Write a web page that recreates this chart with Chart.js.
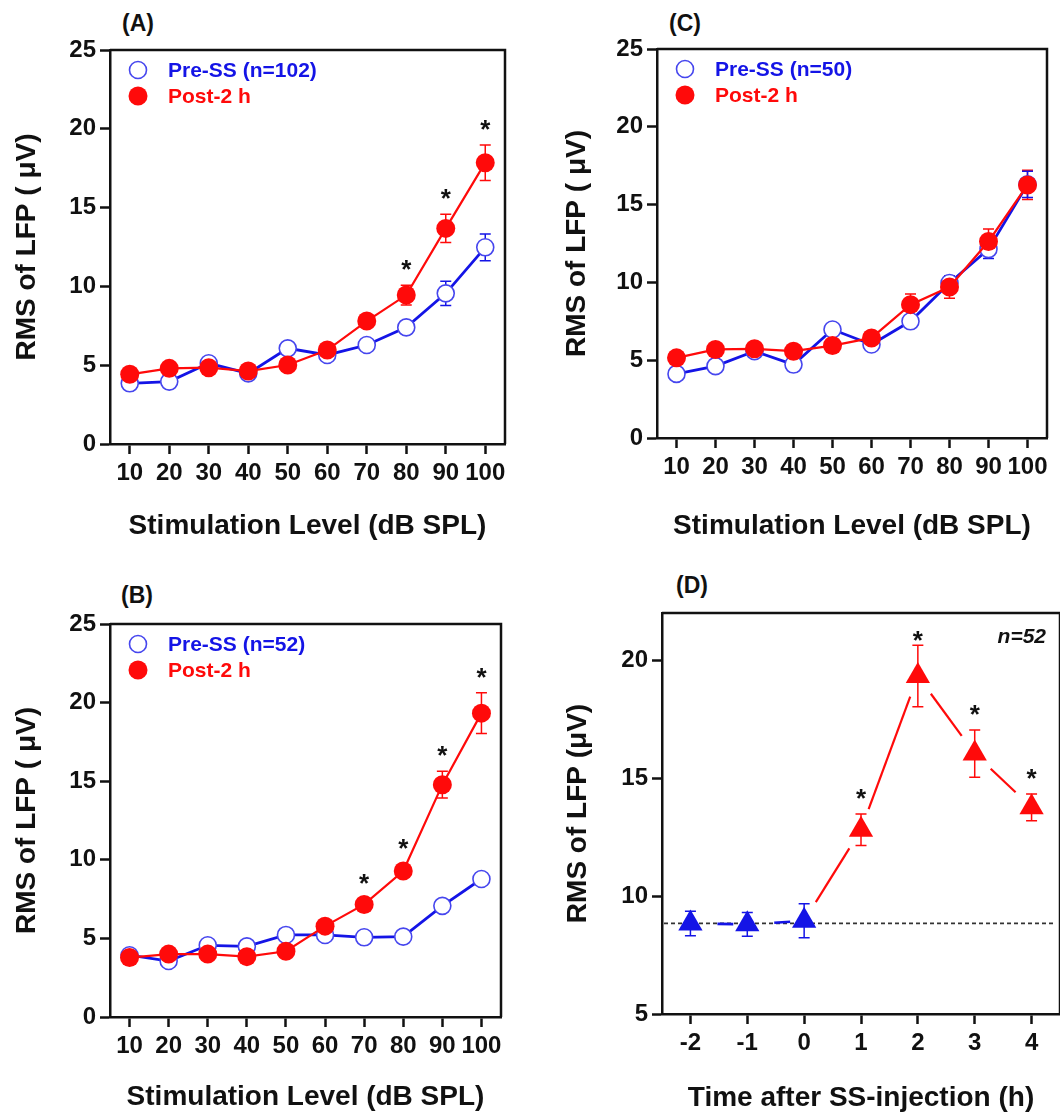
<!DOCTYPE html>
<html>
<head>
<meta charset="utf-8">
<title>RMS of LFP</title>
<script src="https://cdn.jsdelivr.net/npm/chart.js@4.4.1/dist/chart.umd.min.js"></script>
<style>
  html, body { margin: 0; padding: 0; background: #fff; }
  #figure { position: relative; width: 1060px; height: 1117px; overflow: hidden; }
  #figure canvas { position: absolute; }
  .panel-tag { position: absolute; font: bold 23px 'Liberation Sans', Arial, sans-serif; line-height: 23px; color: #111; }
</style>
</head>
<body>
<div id="figure">
  <div class="panel-tag" style="left:122px;top:12px">(A)</div>
  <div class="panel-tag" style="left:669px;top:12px">(C)</div>
  <div class="panel-tag" style="left:121px;top:584px">(B)</div>
  <div class="panel-tag" style="left:676px;top:574px">(D)</div>
  <canvas id="panelA"></canvas>
  <canvas id="panelC"></canvas>
  <canvas id="panelB"></canvas>
  <canvas id="panelD"></canvas>
</div>
<script>
// ---- data ----
const levels = [10, 20, 30, 40, 50, 60, 70, 80, 90, 100];
const rmsTicks = [0, 5, 10, 15, 20, 25];

// (A) n=102
const preA = [3.85, 3.96, 5.12, 4.48, 6.07, 5.65, 6.28, 7.40, 9.56, 12.48];
const preErrA = [0.25, 0.25, 0.25, 0.25, 0.3, 0.3, 0.3, 0.4, 0.77, 0.85];
const postA = [4.42, 4.80, 4.84, 4.63, 5.01, 5.96, 7.80, 9.45, 13.68, 17.85];
const postErrA = [0.25, 0.25, 0.25, 0.25, 0.25, 0.3, 0.4, 0.63, 0.9, 1.13];
const starsA = [80, 90, 100];

// (B) n=52
const preB = [3.93, 3.56, 4.56, 4.49, 5.22, 5.22, 5.07, 5.11, 7.07, 8.78];
const preErrB = [0.2, 0.2, 0.2, 0.2, 0.25, 0.25, 0.25, 0.25, 0.3, 0.3];
const postB = [3.78, 4.00, 4.00, 3.84, 4.18, 5.78, 7.16, 9.29, 14.78, 19.33];
const postErrB = [0.2, 0.2, 0.2, 0.2, 0.25, 0.3, 0.35, 0.4, 0.85, 1.3];
const starsB = [70, 80, 90, 100];

// (C) n=50
const preC = [4.12, 4.62, 5.58, 4.72, 6.97, 6.01, 7.50, 9.96, 12.14, 16.30];
const preErrC = [0.25, 0.25, 0.3, 0.3, 0.3, 0.3, 0.4, 0.45, 0.6, 0.85];
const postC = [5.15, 5.69, 5.73, 5.58, 5.94, 6.43, 8.57, 9.70, 12.63, 16.26];
const postErrC = [0.25, 0.25, 0.3, 0.3, 0.3, 0.35, 0.68, 0.72, 0.8, 0.94];
const starsC = [];

// (D) time course, n=52
const hoursPre = [-2, -1, 0];
const rmsPre = [8.84, 8.80, 8.95];
const rmsPreErr = [0.52, 0.50, 0.72];
const hoursPost = [1, 2, 3, 4];
const rmsPost = [12.81, 19.33, 16.04, 13.76];
const rmsPostErr = [0.67, 1.30, 1.00, 0.57];
const baselineD = 8.84;
const hourTicks = [-2, -1, 0, 1, 2, 3, 4];
const rmsTicksD = [5, 10, 15, 20];
const starsD = [1, 2, 3, 4];

// ---- styling ----
const FONT = "'Liberation Sans', Arial, sans-serif";
const RED = '#ff0a0a';
const BLUE = '#1414e6';
const BLUE_RING = '#4646ee';
const INK = '#111';
const TICK_SIZE = 24;
const TITLE_SIZE = 28;
const CAP = 5.5;

Chart.defaults.font.family = FONT;

function series(xs, ys) {
  return xs.map((x, i) => ({ x: x, y: ys[i] }));
}

// gap at both ends of every line segment, so lines stop short of the markers
function gappedDash(g0, g1) {
  return function (ctx) {
    const L = Math.hypot(ctx.p1.x - ctx.p0.x, ctx.p1.y - ctx.p0.y);
    return [0, g0, Math.max(L - g0 - g1, 0), g1];
  };
}

function levelDatasets(pre, preErr, post, postErr) {
  return [
    {
      label: 'Post-2 h',
      data: series(levels, post),
      errorBars: postErr,
      errorColor: RED,
      order: 0,
      borderColor: RED,
      backgroundColor: RED,
      borderWidth: 2.2,
      pointRadius: 9.5,
      pointBackgroundColor: RED,
      pointBorderWidth: 0
    },
    {
      label: 'Pre-SS',
      data: series(levels, pre),
      errorBars: preErr,
      errorColor: BLUE,
      order: 1,
      borderColor: BLUE,
      backgroundColor: '#fff',
      borderWidth: 2.8,
      pointRadius: 8.5,
      pointBackgroundColor: '#fff',
      pointBorderColor: BLUE_RING,
      pointBorderWidth: 1.6
    }
  ];
}

function timeDatasets() {
  return [
    {
      label: 'Post',
      data: [{ x: hoursPre[hoursPre.length - 1], y: rmsPre[rmsPre.length - 1] }].concat(series(hoursPost, rmsPost)),
      errorBars: [null].concat(rmsPostErr),
      errorColor: RED,
      order: 0,
      borderColor: RED,
      borderWidth: 2.2,
      pointStyle: 'triangle',
      pointRadius: ctx => (ctx.dataIndex === 0 ? 0 : 14),
      pointBackgroundColor: RED,
      pointBorderWidth: 0,
      segment: { borderDash: gappedDash(22, 22) }
    },
    {
      label: 'Pre',
      data: series(hoursPre, rmsPre),
      errorBars: rmsPreErr,
      errorColor: BLUE,
      order: 1,
      borderColor: BLUE,
      borderWidth: 2.6,
      pointStyle: 'triangle',
      pointRadius: 14,
      pointBackgroundColor: BLUE,
      pointBorderWidth: 0,
      segment: { borderDash: gappedDash(27, 14) }
    }
  ];
}

// frame, error bars, significance stars, legend and n label
function decorations(p) {
  return {
    id: 'decor',
    beforeDatasetsDraw(chart) {
      const ctx = chart.ctx;
      const xs = chart.scales.x, ys = chart.scales.y;
      const area = chart.chartArea;

      if (p.baseline != null) {
        const y = ys.getPixelForValue(p.baseline);
        ctx.save();
        ctx.strokeStyle = '#333';
        ctx.lineWidth = 1.6;
        ctx.setLineDash([4, 3]);
        ctx.beginPath();
        ctx.moveTo(area.left + 2, y);
        ctx.lineTo(area.right - 4, y);
        ctx.stroke();
        ctx.restore();
      }

      chart.data.datasets.forEach(ds => {
        if (!ds.errorBars) return;
        ctx.save();
        ctx.strokeStyle = ds.errorColor;
        ctx.lineWidth = 1.5;
        ds.data.forEach((pt, i) => {
          const e = ds.errorBars[i];
          if (e == null) return;
          const x = xs.getPixelForValue(pt.x);
          const yTop = ys.getPixelForValue(pt.y + e);
          const yBot = ys.getPixelForValue(pt.y - e);
          ctx.beginPath();
          ctx.moveTo(x, yTop); ctx.lineTo(x, yBot);
          ctx.moveTo(x - CAP, yTop); ctx.lineTo(x + CAP, yTop);
          ctx.moveTo(x - CAP, yBot); ctx.lineTo(x + CAP, yBot);
          ctx.stroke();
        });
        ctx.restore();
      });
    },
    afterDatasetsDraw(chart) {
      const ctx = chart.ctx;
      const xs = chart.scales.x, ys = chart.scales.y;
      const area = chart.chartArea;

      // top and right sides of the box
      ctx.save();
      ctx.strokeStyle = INK;
      ctx.lineWidth = 2.5;
      ctx.beginPath();
      ctx.moveTo(area.left, area.top);
      ctx.lineTo(area.right, area.top);
      ctx.lineTo(area.right, area.bottom);
      ctx.stroke();
      ctx.restore();

      // stars above the error bars of the significant points
      const starDs = chart.data.datasets[0];
      ctx.save();
      ctx.fillStyle = INK;
      ctx.font = 'bold 26px ' + FONT;
      ctx.textAlign = 'center';
      ctx.textBaseline = 'alphabetic';
      p.stars.forEach(sx => {
        const i = starDs.data.findIndex(pt => pt.x === sx);
        if (i < 0) return;
        const pt = starDs.data[i];
        const x = xs.getPixelForValue(pt.x);
        let cy = ys.getPixelForValue(pt.y + starDs.errorBars[i]) - 22;
        cy = Math.max(cy, area.top + 21);
        ctx.fillText('*', x, cy + 26 * 0.57);
      });
      ctx.restore();

      // legend in the upper-left corner
      if (p.legend) {
        ctx.save();
        ctx.font = 'bold 21px ' + FONT;
        ctx.textBaseline = 'middle';
        p.legend.forEach((item, k) => {
          const mx = area.left + 28;
          const my = area.top + 20 + k * 26;
          ctx.beginPath();
          ctx.arc(mx, my, item.filled ? 9.5 : 8.5, 0, Math.PI * 2);
          if (item.filled) {
            ctx.fillStyle = item.color;
            ctx.fill();
          } else {
            ctx.fillStyle = '#fff';
            ctx.fill();
            ctx.lineWidth = 1.6;
            ctx.strokeStyle = BLUE_RING;
            ctx.stroke();
          }
          ctx.fillStyle = item.color;
          ctx.fillText(item.text, area.left + 58, my + 1);
        });
        ctx.restore();
      }

      if (p.note) {
        ctx.save();
        ctx.fillStyle = INK;
        ctx.font = 'italic bold 21px ' + FONT;
        ctx.textAlign = 'right';
        ctx.textBaseline = 'middle';
        ctx.fillText(p.note, area.right - 14, area.top + 24);
        ctx.restore();
      }
    }
  };
}

function buildPanel(p) {
  const canvas = document.getElementById(p.id);
  const [bx, by, bw, bh] = p.box;
  const [l, t, r, b] = p.area;
  canvas.width = bw;
  canvas.height = bh;
  canvas.style.left = bx + 'px';
  canvas.style.top = by + 'px';

  const titleLH = TITLE_SIZE * 1.2;
  const yAxisW = l - bx;
  const xAxisH = by + bh - b;
  const tickFont = { family: FONT, size: TICK_SIZE, weight: 'bold' };
  const titleFont = { family: FONT, size: TITLE_SIZE, weight: 'bold' };
  const grid = { drawOnChartArea: false, drawTicks: true, tickLength: 10, tickWidth: 2.5, tickColor: INK };
  const border = { display: true, color: INK, width: 2.5 };

  return new Chart(canvas, {
    type: 'line',
    data: { datasets: p.datasets },
    options: {
      responsive: false,
      animation: false,
      events: [],
      clip: false,
      layout: { autoPadding: false, padding: { left: 0, top: t - by, right: bx + bw - r, bottom: 0 } },
      plugins: { legend: { display: false }, tooltip: { enabled: false } },
      scales: {
        x: {
          type: 'linear',
          min: p.xMin,
          max: p.xMax,
          afterBuildTicks: s => { s.ticks = p.xTicks.map(v => ({ value: v })); },
          afterFit: s => { s.height = xAxisH; },
          grid: grid,
          border: border,
          ticks: { font: tickFont, color: INK, padding: 5, maxRotation: 0, minRotation: 0, autoSkip: false },
          title: {
            display: true,
            text: p.xTitle,
            font: titleFont,
            color: INK,
            padding: { top: 0, bottom: by + bh - p.xTitleY - titleLH / 2 }
          }
        },
        y: {
          type: 'linear',
          min: p.yMin,
          max: p.yMax,
          afterBuildTicks: s => { s.ticks = p.yTicks.map(v => ({ value: v })); },
          afterFit: s => { s.width = yAxisW; },
          grid: grid,
          border: border,
          ticks: { font: tickFont, color: INK, padding: 4 },
          title: {
            display: true,
            text: p.yTitle,
            font: titleFont,
            color: INK,
            padding: { top: p.yTitleX - bx - titleLH / 2, bottom: 0 }
          }
        }
      }
    },
    plugins: [decorations(p)]
  });
}

const levelTitle = 'Stimulation Level (dB SPL)';
const rmsTitle = 'RMS of LFP ( \u03bcV)';

const panels = [
  {
    id: 'panelA', box: [0, 0, 530, 560], area: [110, 50, 505, 444],
    yTitleX: 27, xTitleY: 526,
    xMin: 5, xMax: 105, xTicks: levels, yMin: 0, yMax: 25, yTicks: rmsTicks,
    xTitle: levelTitle, yTitle: rmsTitle,
    datasets: levelDatasets(preA, preErrA, postA, postErrA), stars: starsA,
    legend: [{ text: 'Pre-SS (n=102)', color: BLUE }, { text: 'Post-2 h', color: RED, filled: true }]
  },
  {
    id: 'panelC', box: [530, 0, 530, 560], area: [657, 49, 1047, 438],
    yTitleX: 577, xTitleY: 526,
    xMin: 5, xMax: 105, xTicks: levels, yMin: 0, yMax: 25, yTicks: rmsTicks,
    xTitle: levelTitle, yTitle: rmsTitle,
    datasets: levelDatasets(preC, preErrC, postC, postErrC), stars: starsC,
    legend: [{ text: 'Pre-SS (n=50)', color: BLUE }, { text: 'Post-2 h', color: RED, filled: true }]
  },
  {
    id: 'panelB', box: [0, 560, 530, 557], area: [110, 624, 501, 1017],
    yTitleX: 27, xTitleY: 1097,
    xMin: 5, xMax: 105, xTicks: levels, yMin: 0, yMax: 25, yTicks: rmsTicks,
    xTitle: levelTitle, yTitle: rmsTitle,
    datasets: levelDatasets(preB, preErrB, postB, postErrB), stars: starsB,
    legend: [{ text: 'Pre-SS (n=52)', color: BLUE }, { text: 'Post-2 h', color: RED, filled: true }]
  },
  {
    id: 'panelD', box: [530, 560, 530, 557], area: [662, 613, 1060, 1014],
    yTitleX: 578, xTitleY: 1098,
    xMin: -2.5, xMax: 4.5, xTicks: hourTicks, yMin: 5, yMax: 22, yTicks: rmsTicksD,
    xTitle: 'Time after SS-injection (h)', yTitle: 'RMS of LFP (\u03bcV)',
    datasets: timeDatasets(), stars: starsD, baseline: baselineD, note: 'n=52'
  }
];

panels.forEach(buildPanel);
</script>
</body>
</html>
